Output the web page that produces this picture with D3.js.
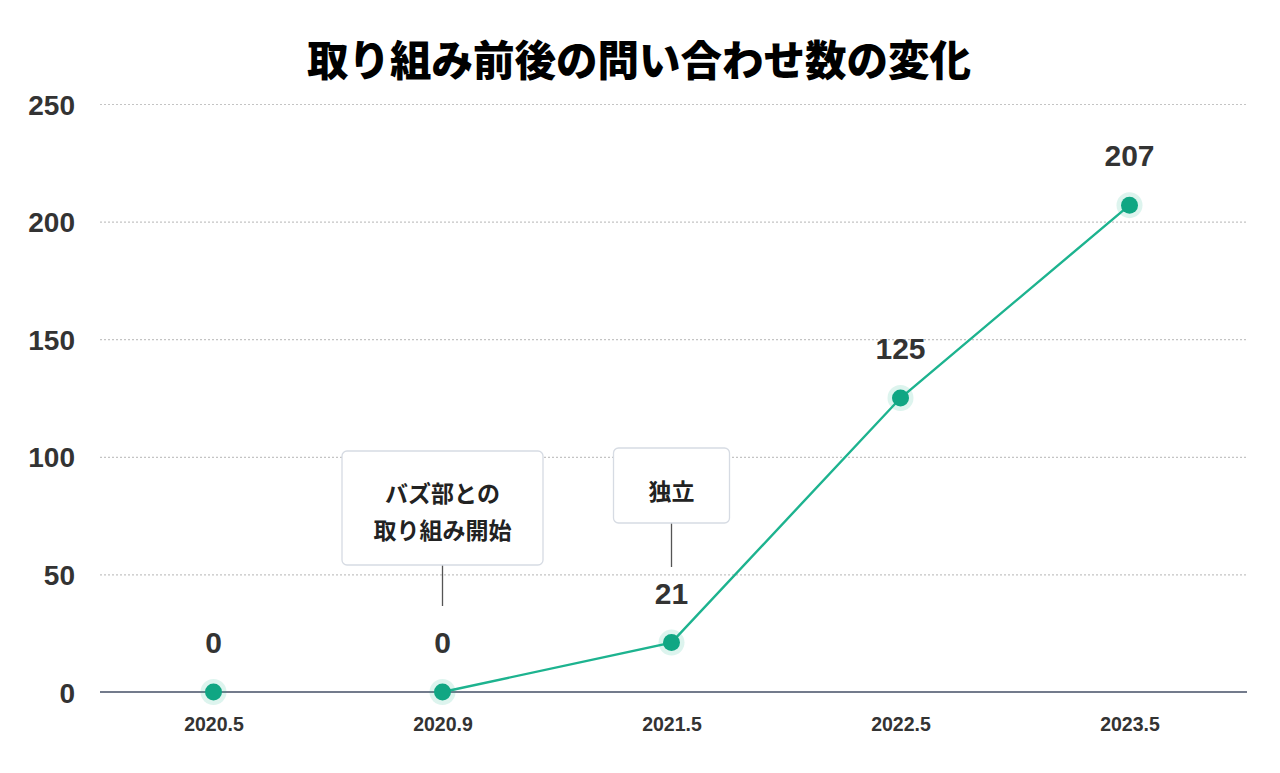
<!DOCTYPE html>
<html><head><meta charset="utf-8">
<script src="https://cdn.jsdelivr.net/npm/d3@7"></script>
<style>
html,body{margin:0;padding:0;background:#fff;}
svg{display:block;}
</style></head>
<body>
<svg id="chart" width="1280" height="773"></svg>
<script>
const title = "取り組み前後の問い合わせ数の変化";
const categories = ["2020.5", "2020.9", "2021.5", "2022.5", "2023.5"];
const values = [0, 0, 21, 125, 207];
const lineStartIndex = 1;
const yTicks = [0, 50, 100, 150, 200, 250];
const annotations = [
  {cat: "2020.9", lines: ["バズ部との", "取り組み開始"]},
  {cat: "2021.5", lines: ["独立"]}
];

const svg = d3.select("#chart");
const W = 1280, H = 773;
const plotLeft = 100, plotRight = 1247;
const x = d3.scalePoint().domain(categories).range([99, 1244]).padding(0.5);
const y = d3.scaleLinear().domain([0, 250]).range([692, 104]);

const latin = "'Liberation Sans', Arial, 'Noto Sans CJK JP', sans-serif";
const cjk = "'Noto Sans CJK JP', sans-serif";

svg.append("text").attr("x", 639).attr("y", 76).attr("text-anchor", "middle")
  .attr("font-family", cjk).attr("font-weight", 900).attr("font-size", 41.5).attr("fill", "#000")
  .text(title);

// grid
const yAxis = d3.axisLeft(y).tickValues(yTicks).tickSize(-(plotRight - plotLeft)).tickPadding(25);
const gy = svg.append("g").attr("transform", `translate(${plotLeft},0)`).call(yAxis);
gy.select(".domain").remove();
gy.selectAll(".tick line").attr("stroke", "#c4c4c4").attr("stroke-width", 1.2).attr("stroke-dasharray", "2,2");
gy.selectAll(".tick text").attr("font-family", latin).attr("font-weight", 700).attr("font-size", 28).attr("fill", "#333").attr("dy", "0.36em");
gy.selectAll(".tick").filter(d => d === 0).select("line").remove();

// baseline
svg.append("line").attr("x1", plotLeft).attr("x2", plotRight)
  .attr("y1", y(0)).attr("y2", y(0)).attr("stroke", "#737b8c").attr("stroke-width", 2);

// x axis labels
const xAxis = d3.axisBottom(x).tickSize(0).tickPadding(25);
const gx = svg.append("g").attr("transform", `translate(0,${y(0)})`).call(xAxis);
gx.select(".domain").remove();
gx.selectAll(".tick text").attr("font-family", latin).attr("font-weight", 700).attr("font-size", 19.5).attr("fill", "#333");

// annotations
annotations.forEach(a => {
  const cx = x(a.cat);
  const multi = a.lines.length > 1;
  const lineH = 37, fs = 23;
  const bw = multi ? 201 : 116;
  const bh = multi ? 114 : 75;
  const by = multi ? 451 : 448;
  const g = svg.append("g");
  g.append("line").attr("x1", cx).attr("x2", cx).attr("y1", by + bh - 4).attr("y2", multi ? 606 : 567)
    .attr("stroke", "#555").attr("stroke-width", 1.3);
  g.append("rect").attr("x", cx - bw / 2).attr("y", by).attr("width", bw).attr("height", bh)
    .attr("rx", 5).attr("fill", "#fff").attr("stroke", "#d6dbe3").attr("stroke-width", 1.3);
  a.lines.forEach((t, i) => {
    g.append("text").attr("x", cx).attr("y", by + (multi ? 51 : 52) + i * lineH)
      .attr("text-anchor", "middle").attr("font-family", cjk).attr("font-weight", 700)
      .attr("font-size", fs).attr("fill", "#222").text(t);
  });
});

// line
const lineData = categories.map((c, i) => ({c, v: values[i]})).slice(lineStartIndex);
svg.append("path").datum(lineData)
  .attr("d", d3.line().x(d => x(d.c)).y(d => y(d.v)))
  .attr("fill", "none").attr("stroke", "#1db38f").attr("stroke-width", 2.4);

// points
const pts = categories.map((c, i) => ({c, v: values[i]}));
svg.selectAll(".halo").data(pts).join("circle")
  .attr("cx", d => x(d.c)).attr("cy", d => y(d.v)).attr("r", 13)
  .attr("fill", "#1db38f").attr("fill-opacity", 0.15);
svg.selectAll(".pt").data(pts).join("circle")
  .attr("cx", d => x(d.c)).attr("cy", d => y(d.v)).attr("r", 8.5)
  .attr("fill", "#10a683");

// value labels
svg.selectAll(".vl").data(pts).join("text")
  .attr("x", d => x(d.c)).attr("y", d => y(d.v) - 39)
  .attr("text-anchor", "middle").attr("font-family", latin).attr("font-weight", 700)
  .attr("font-size", 30).attr("fill", "#333").text(d => d.v);
</script>
</body></html>
